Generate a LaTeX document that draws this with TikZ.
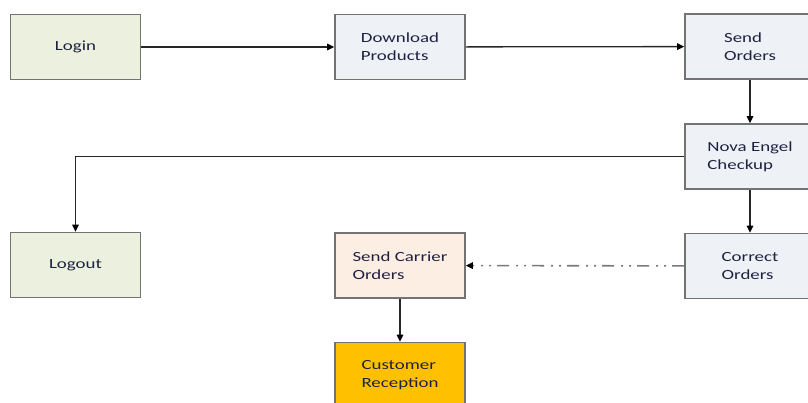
\documentclass[tikz,border=0pt]{standalone}
\usepackage{fontspec}
\setmainfont{Carlito}[FakeStretch=1.35]
\usepackage{tikz}
\usetikzlibrary{arrows.meta}
\definecolor{boxline}{HTML}{737373}
\definecolor{txt}{HTML}{1F2140}
\definecolor{greenfill}{HTML}{EBF1DE}
\definecolor{bluefill}{HTML}{EEF2F7}
\definecolor{peachfill}{HTML}{FDEEE4}
\definecolor{goldfill}{HTML}{FFC000}
\definecolor{dashline}{HTML}{7A7A7A}

\begin{document}
\begin{tikzpicture}[x=1pt,y=-1pt,
        stepbox/.style={draw=boxline,line width=1.6pt,minimum width=130pt,minimum height=65pt,
            align=left,text=txt,font=\fontsize{14}{18}\selectfont,inner sep=2pt},
        flow/.style={line width=1.3pt,draw=black!85,-{Triangle[length=7pt,width=6.5pt,color=black]}}]
            \useasboundingbox (0,0) rectangle (808,403);
            \node[stepbox,fill=greenfill] (login) at (75.5,47) {Login};
            \node[stepbox,fill=bluefill] (download) at (400,47) {Download\\Products};
            \node[stepbox,fill=bluefill] (send) at (750,46.5) {Send\\Orders};
            \node[stepbox,fill=bluefill] (nova) at (750,156.5) {Nova Engel\\Checkup};
            \node[stepbox,fill=greenfill] (logout) at (75.5,265) {Logout};
            \node[stepbox,fill=peachfill] (carrier) at (400,265.5) {Send Carrier\\Orders};
            \node[stepbox,fill=bluefill] (correct) at (750,266) {Correct\\Orders};
            \node[stepbox,fill=goldfill] (customer) at (400,375) {Customer\\Reception};
            \draw[flow] (login) -- (download);
            \draw[flow] (download) -- (send);
            \draw[flow] (send) -- (nova);
            \draw[flow] (nova.west) -| (logout.north);
            \draw[flow] (nova) -- (correct);
            \draw[flow,draw=dashline,line width=1.6pt,dash pattern=on 12pt off 6pt on 2pt off 6pt on 2pt off 7pt] (correct) -- (carrier);
            \draw[flow] (carrier) -- (customer);
        \end{tikzpicture}
\end{document}
